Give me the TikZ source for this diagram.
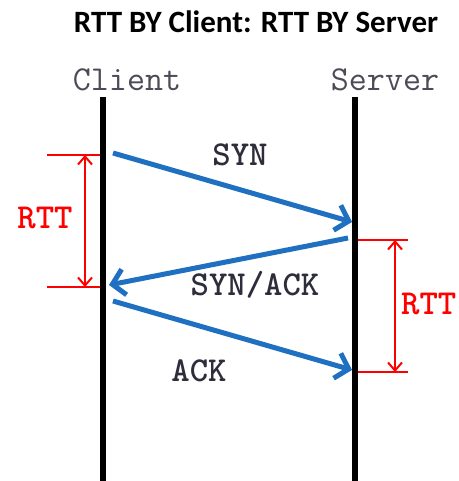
\documentclass[tikz,border=0pt]{standalone}
\usepackage{fontspec}
\setmainfont{Liberation Serif}
\newfontfamily\titlefont{Carlito}
\usetikzlibrary{arrows.meta}
\definecolor{arrowblue}{RGB}{31,112,192}
\definecolor{rttred}{RGB}{255,0,0}
\definecolor{labelgray}{RGB}{45,45,60}
\tikzset{
  titletext/.style={font=\titlefont\bfseries\fontsize{31}{31}\selectfont, text=black, inner sep=0pt},
  endtext/.style={font=\ttfamily\fontsize{35}{35}\selectfont, text=labelgray!85, inner sep=0pt},
  msgtext/.style={font=\ttfamily\bfseries\fontsize{35}{35}\selectfont, text=labelgray, inner sep=0pt},
  rtttext/.style={font=\ttfamily\bfseries\fontsize{35}{35}\selectfont, text=rttred, inner sep=0pt},
  lifeline/.style={line width=6pt, black},
  msg/.style={line width=5pt, arrowblue, -{Straight Barb[length=12pt,width=26pt]}},
  tick/.style={line width=2pt, rttred},
  span/.style={line width=2pt, rttred, {Straight Barb[length=8pt,width=14pt]}-{Straight Barb[length=8pt,width=14pt]}}
}
\begin{document}
\begin{tikzpicture}[x=1pt,y=-1pt]
\useasboundingbox (0,0) rectangle (458,481);
\fill[white] (0,0) rectangle (458,481);
\node[titletext] (title) at (256,22) {RTT BY Client: RTT BY Server};
\node[endtext] (client) at (127,80) {Client};
\node[endtext] (server) at (385,80) {Server};
% lifelines
\coordinate (ctop) at (103,97);
\coordinate (cbot) at (103,481);
\coordinate (stop) at (355,97);
\coordinate (sbot) at (355,481);
\draw[lifeline] (ctop) -- (cbot);
\draw[lifeline] (stop) -- (sbot);
% messages
\coordinate (syna) at (113,153);
\coordinate (synb) at (352,222);
\coordinate (saa) at (348,238);
\coordinate (sab) at (109,285);
\coordinate (acka) at (113,301);
\coordinate (ackb) at (352,370);
\draw[msg] (syna) -- (synb);
\draw[msg] (saa) -- (sab);
\draw[msg] (acka) -- (ackb);
\node[msgtext] (synl) at (240,155) {SYN};
\node[msgtext] (sal) at (255,285) {SYN/ACK};
\node[msgtext] (ackl) at (199,371) {ACK};
% left RTT
\coordinate (l1a) at (47,155);
\coordinate (l1b) at (100,155);
\coordinate (l2a) at (47,287);
\coordinate (l2b) at (100,287);
\coordinate (lva) at (85,155);
\coordinate (lvb) at (85,287);
\draw[tick] (l1a) -- (l1b);
\draw[tick] (l2a) -- (l2b);
\draw[span] (lva) -- (lvb);
\node[rtttext] (lrtt) at (45,218) {RTT};
% right RTT
\coordinate (r1a) at (358,240);
\coordinate (r1b) at (408,240);
\coordinate (r2a) at (358,372);
\coordinate (r2b) at (408,372);
\coordinate (rva) at (395,240);
\coordinate (rvb) at (395,372);
\draw[tick] (r1a) -- (r1b);
\draw[tick] (r2a) -- (r2b);
\draw[span] (rva) -- (rvb);
\node[rtttext, anchor=west] (rrtt) at (401,304) {RTT};
\end{tikzpicture}
\end{document}
